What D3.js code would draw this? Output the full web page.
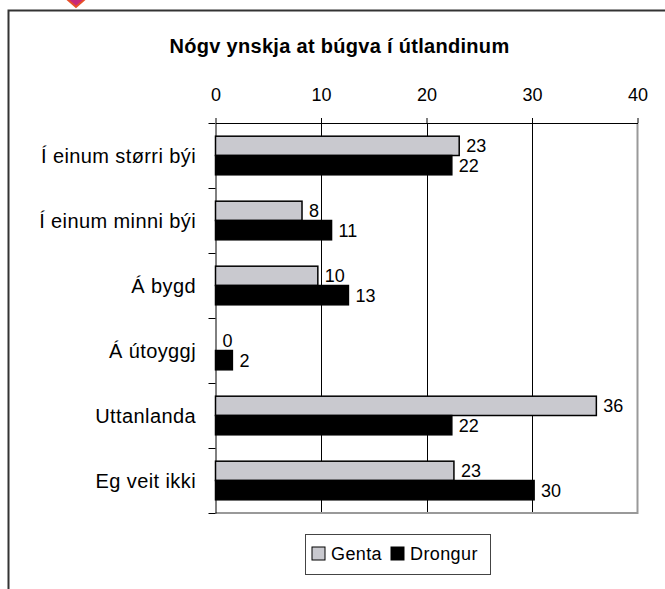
<!DOCTYPE html>
<html>
<head>
<meta charset="utf-8">
<script src="https://cdn.jsdelivr.net/npm/d3@7"></script>
<style>
	body { margin: 0; background: #fff; }
	text { font-family: "Liberation Sans", Arial, sans-serif; fill: #000; }
</style>
</head>
<body>
<div id="chart_container"></div>
<script>

const categories = ['Í einum størri býi', 'Í einum minni býi', 'Á bygd', 'Á útoyggj', 'Uttanlanda', 'Eg veit ikki']
const seriesNames = ['Genta', 'Drongur']
const gentaValues = [23.1, 8.2, 9.7, 0, 36.1, 22.6]
const drongurValues = [22.4, 11.0, 12.6, 1.6, 22.4, 30.2]
const xTicks = [0, 10, 20, 30, 40]
const chartTitle = 'Nógv ynskja at búgva í útlandinum'

const seriesColors = {'Genta': '#c9c9cf', 'Drongur': '#000000'}

const width = 665
const height = 589

const plot = {left: 215.5, right: 637.5, top: 123, bottom: 513}

const svg = d3.select('#chart_container')
	.append('svg')
	.attr('width', width)
	.attr('height', height)

// outer frame (top + left visible)
svg.append('path')
	.attr('d', 'M8.5,589 L8.5,10.5 L665,10.5')
	.attr('fill', 'none')
	.attr('stroke', '#333')
	.attr('stroke-width', 2)

// little marker sticking out over the frame
svg.append('polygon')
	.attr('points', [[76, -8], [84, 0], [76, 7], [68, 0]].map(p => p.join(',')).join(' '))
	.attr('fill', '#c8287a')
	.attr('stroke', '#e8502a')
	.attr('stroke-width', 2)

svg.append('text')
	.attr('x', 339.5)
	.attr('y', 53)
	.attr('text-anchor', 'middle')
	.style('font-size', '20px')
	.style('font-weight', 'bold')
	.style('letter-spacing', '0.3px')
	.text(chartTitle)

let xScale = d3.scaleLinear()
	.domain([0, 40])
	.range([plot.left, plot.right])

let yScale = d3.scaleBand()
	.domain(categories)
	.range([plot.top, plot.bottom])
	.paddingInner(0.406)
	.paddingOuter(0.203)

let subScale = d3.scaleBand()
	.domain(seriesNames)
	.range([0, yScale.bandwidth()])

let rows = categories.map(function(c, i){
	return {category: c, values: [
		{series: 'Genta', value: gentaValues[i]},
		{series: 'Drongur', value: drongurValues[i]}
	]}
})

// gridlines
svg.selectAll('.grid')
	.data(xTicks.filter(d => d > 0 && d < 40))
	.enter()
	.append('line')
	.attr('x1', d => Math.round(xScale(d)) + 0.5)
	.attr('x2', d => Math.round(xScale(d)) + 0.5)
	.attr('y1', plot.top)
	.attr('y2', plot.bottom)
	.attr('stroke', '#000')
	.attr('stroke-width', 1)

// plot frame right + bottom in gray
svg.append('path')
	.attr('d', `M${plot.right},${plot.top} L${plot.right},${plot.bottom} L${plot.left},${plot.bottom}`)
	.attr('fill', 'none')
	.attr('stroke', '#999')
	.attr('stroke-width', 2)

// top axis
let xAxis = svg.append('g')
	.attr('transform', `translate(0,${plot.top})`)
	.call(d3.axisTop(xScale).tickValues(xTicks).tickSize(5).tickSizeOuter(0).tickPadding(17))

xAxis.select('.domain').attr('stroke', '#000')
xAxis.selectAll('text')
	.style('font-size', '18px')
	.attr('fill', '#000')

// left axis ticks at category boundaries
let boundaryScale = d3.scaleLinear()
	.domain([0, categories.length])
	.range([plot.top, plot.bottom])

let yAxis = svg.append('g')
	.attr('transform', `translate(${plot.left},0)`)
	.call(d3.axisLeft(boundaryScale).tickValues(d3.range(categories.length + 1)).tickSize(7).tickSizeOuter(0).tickFormat(''))

yAxis.select('.domain').attr('stroke', '#000')

// category labels
svg.selectAll('.catLabel')
	.data(categories)
	.enter()
	.append('text')
	.attr('x', 196)
	.attr('y', d => yScale(d) + yScale.bandwidth() / 2 + 7.5)
	.attr('text-anchor', 'end')
	.style('font-size', '20px')
	.style('letter-spacing', '0.4px')
	.text(d => d)

let groups = svg.selectAll('.group')
	.data(rows)
	.enter()
	.append('g')
	.attr('transform', d => `translate(0,${yScale(d.category)})`)

// value labels (drawn first, so bars lie on top of them)
groups.selectAll('.valLabel')
	.data(d => d.values)
	.enter()
	.append('text')
	.attr('x', d => xScale(d.value) + 7)
	.attr('y', d => subScale(d.series) + subScale.bandwidth() / 2 + 6.4)
	.style('font-size', '18px')
	.text(d => d3.format('.0f')(d.value))

groups.selectAll('.bar')
	.data(d => d.values)
	.enter()
	.append('rect')
	.attr('x', xScale(0))
	.attr('y', d => subScale(d.series))
	.attr('width', d => xScale(d.value) - xScale(0))
	.attr('height', subScale.bandwidth())
	.attr('fill', d => seriesColors[d.series])
	.attr('stroke', '#000')
	.attr('stroke-width', d => d.value > 0 ? 1.5 : 0)

// legend
let legend = svg.append('g')
	.attr('transform', 'translate(305,534)')

legend.append('rect')
	.attr('x', 0.5)
	.attr('y', 0.5)
	.attr('width', 185)
	.attr('height', 40)
	.attr('fill', '#fff')
	.attr('stroke', '#444')
	.attr('stroke-width', 1)

let legendX = [7, 86]

let items = legend.selectAll('.item')
	.data(seriesNames)
	.enter()
	.append('g')
	.attr('transform', (d, i) => `translate(${legendX[i]},0)`)

items.append('rect')
	.attr('x', 0)
	.attr('y', 13)
	.attr('width', 13)
	.attr('height', 13)
	.attr('fill', d => seriesColors[d])
	.attr('stroke', '#000')
	.attr('stroke-width', 1)

items.append('text')
	.attr('x', 19)
	.attr('y', 26)
	.style('font-size', '18px')
	.style('letter-spacing', '0.4px')
	.text(d => d)

</script>
</body>
</html>
